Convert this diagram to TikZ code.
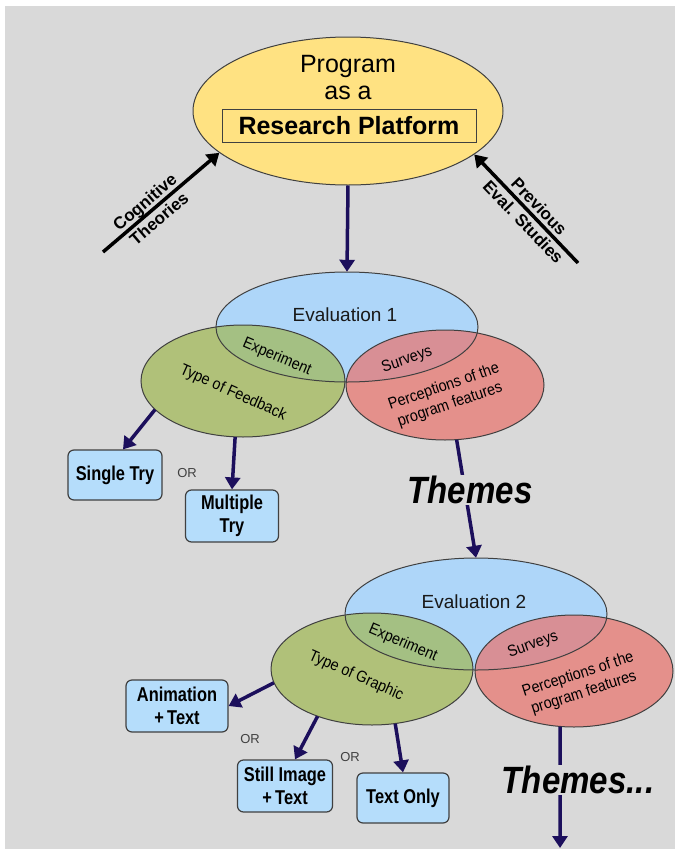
\documentclass[tikz,border=0pt]{standalone}
\usepackage{fontspec}
\setmainfont{Liberation Sans}
\newfontfamily\narrowfont[FakeStretch=0.82]{Liberation Sans}
\newfontfamily\themefont[FakeStretch=0.87]{Liberation Sans}
\newfontfamily\lblfont[FakeStretch=0.9]{Liberation Sans}
\usetikzlibrary{shapes.geometric,arrows.meta}
\definecolor{bg}{HTML}{D9D9D9}
\definecolor{yel}{HTML}{FFE282}
\definecolor{bluec}{HTML}{AED6F9}
\definecolor{greenc}{HTML}{A0B851}
\definecolor{redc}{HTML}{EA726B}
\definecolor{boxc}{HTML}{B5DDFB}
\definecolor{bordc}{HTML}{404040}
\definecolor{navyc}{HTML}{1C0F5C}
\begin{document}
\begin{tikzpicture}[x=1pt,y=-1pt,
  ell/.style={ellipse, inner sep=0pt},
  lbl/.style={font=\lblfont\fontsize{16}{19}\selectfont, align=center, text=black, inner sep=0pt},
  evl/.style={font=\fontsize{19}{22}\selectfont, text=black!90},
  optbox/.style={rectangle, rounded corners=6pt, draw=bordc, line width=1.2pt, fill=boxc,
     align=center, inner sep=0pt, font=\narrowfont\bfseries\fontsize{20}{23}\selectfont},
  navyarrow/.style={draw=navyc, line width=3.5pt, -{Triangle[length=12pt,width=15pt]}},
  blkarrow/.style={draw=black, line width=3.5pt, -{Triangle[length=12pt,width=15pt]}},
  ortext/.style={font=\fontsize{13}{15}\selectfont, text=bordc},
  themes/.style={font=\themefont\bfseries\itshape\fontsize{38}{40}\selectfont, fill=bg, inner sep=1pt},
  slant/.style={font=\bfseries\fontsize{17}{22}\selectfont, align=center, inner sep=0pt}
]
\useasboundingbox (0,0) rectangle (677,849);
\fill[white] (0,0) rectangle (677,849);
\fill[bg] (5,6) rectangle (675,849);

% top ellipse
\node[ell, fill=yel, draw=bordc, line width=1pt, minimum width=310pt, minimum height=148pt] (top) at (348,111) {};
\node[anchor=base, font=\fontsize{25}{27}\selectfont] (prog) at (348,72) {Program};
\node[anchor=base, font=\fontsize{25}{27}\selectfont] (asa) at (348,99) {as a};
\node[draw=bordc, line width=1pt, fill=yel, minimum width=254pt, minimum height=33pt, inner sep=0pt,
      font=\bfseries\fontsize{25}{27}\selectfont] (rp) at (349,125.5) {Research Platform};

% side arrows
\coordinate (ctail) at (103,252);
\coordinate (ptail) at (578,263);
\draw[blkarrow] (ctail) -- node[slant, sloped, pos=0.42] (cog) {Cognitive\\Theories} (top.198);
\draw[blkarrow] (ptail) -- node[slant, sloped, pos=0.45] (prev) {Previous\\Eval. Studies} (top.-19.5);

% ellipses, evaluation 1
\node[ell, fill=bluec, minimum width=262pt, minimum height=110pt] (b1) at (347,327) {};
\node[ell, fill=greenc, fill opacity=0.7, minimum width=204pt, minimum height=112pt] (g1) at (243,381) {};
\node[ell, fill=redc, fill opacity=0.7, minimum width=198pt, minimum height=110pt] (r1) at (445,385) {};
\draw[bordc, line width=1pt] (b1.center) ellipse [x radius=131pt, y radius=55pt];
\draw[bordc, line width=1pt] (g1.center) ellipse [x radius=102pt, y radius=56pt];
\draw[bordc, line width=1pt] (r1.center) ellipse [x radius=99pt, y radius=55pt];

% ellipses, evaluation 2
\node[ell, fill=bluec, minimum width=262pt, minimum height=112pt] (b2) at (476,614) {};
\node[ell, fill=greenc, fill opacity=0.7, minimum width=202pt, minimum height=112pt] (g2) at (372,669) {};
\node[ell, fill=redc, fill opacity=0.7, minimum width=198pt, minimum height=112pt] (r2) at (574,671) {};
\draw[bordc, line width=1pt] (b2.center) ellipse [x radius=131pt, y radius=56pt];
\draw[bordc, line width=1pt] (g2.center) ellipse [x radius=101pt, y radius=56pt];
\draw[bordc, line width=1pt] (r2.center) ellipse [x radius=99pt, y radius=56pt];

% down arrow from top
\draw[navyarrow] (top.south) -- (b1.north);

% labels eval 1
\node[evl] (e1) at (345,315) {Evaluation 1};
\node[lbl, rotate=-23] (exp1) at (277,357) {Experiment};
\node[lbl, rotate=-24] (tof) at (233,393) {Type of Feedback};
\node[lbl, rotate=19] (sur1) at (407,360) {Surveys};
\node[lbl, rotate=19] (per1) at (447,396) {Perceptions of the\\program features};

% labels eval 2
\node[evl] (e2) at (474,602) {Evaluation 2};
\node[lbl, rotate=-23] (exp2) at (403,643) {Experiment};
\node[lbl, rotate=-24] (tog) at (356,676) {Type of Graphic};
\node[lbl, rotate=20] (sur2) at (533,645) {Surveys};
\node[lbl, rotate=18] (per2) at (581,684) {Perceptions of the\\program features};

% option boxes eval 1
\node[optbox, minimum width=94pt, minimum height=50pt] (single) at (115,475) {Single Try};
\node[optbox, minimum width=93pt, minimum height=52pt] (multi) at (232,516) {Multiple\\Try};
\node[ortext] (or1) at (187,473) {OR};
\draw[navyarrow] (g1.198) -- ([xshift=8pt]single.north);
\draw[navyarrow] (g1.-98) -- (multi.north);

% option boxes eval 2
\node[optbox, minimum width=102pt, minimum height=52pt] (anim) at (177,706) {Animation\\+\,Text};
\node[optbox, minimum width=95pt, minimum height=52pt] (still) at (285,786) {Still Image\\+\,Text};
\node[optbox, minimum width=92pt, minimum height=50pt] (tonly) at (403,798) {Text Only};
\node[ortext] (or2) at (250,739) {OR};
\node[ortext] (or3) at (350,757) {OR};
\draw[navyarrow] (g2.188) -- (anim.east);
\draw[navyarrow] (g2.221) -- ([xshift=10pt]still.north);
\draw[navyarrow] (g2.-67) -- (tonly.north);

% themes arrows
\draw[navyarrow] (r1.-78) -- (b2.north);
\node[themes] (th1) at (470,490) {Themes};
\coordinate (bend) at (560,848);
\draw[navyarrow] (r2.-104) -- (bend);
\node[themes] (th2) at (578,780) {Themes...};
\end{tikzpicture}
\end{document}
